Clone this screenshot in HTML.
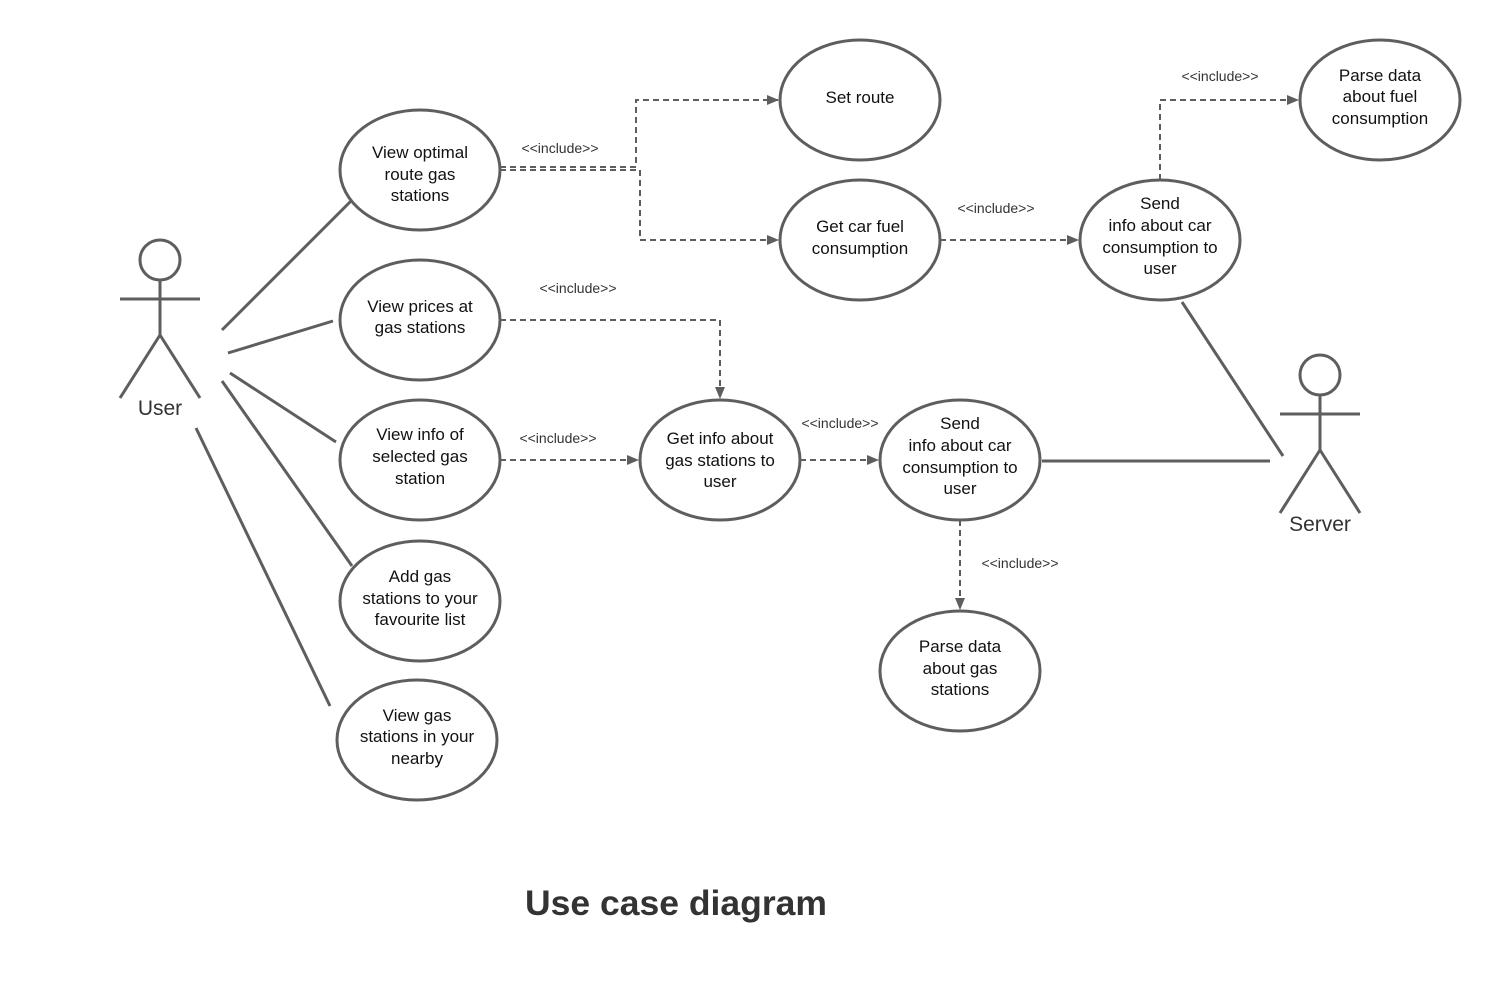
<!DOCTYPE html>
<html><head><meta charset="utf-8"><style>body{margin:0;background:#fff}svg{display:block}</style></head><body>
<svg width="1500" height="995" xmlns="http://www.w3.org/2000/svg" font-family="Liberation Sans, Arial, sans-serif">
<defs><marker id="a" markerWidth="12" markerHeight="12" refX="11" refY="6" orient="auto" markerUnits="userSpaceOnUse"><path d="M0,1 L12,6 L0,11 z" fill="#5e5e5e"/></marker></defs>
<g stroke="#5e5e5e" stroke-width="3" fill="none">
<ellipse cx="420" cy="170" rx="80" ry="60"/>
<ellipse cx="420" cy="320" rx="80" ry="60"/>
<ellipse cx="420" cy="460" rx="80" ry="60"/>
<ellipse cx="420" cy="601" rx="80" ry="60"/>
<ellipse cx="417" cy="740" rx="80" ry="60"/>
<ellipse cx="860" cy="100" rx="80" ry="60"/>
<ellipse cx="860" cy="240" rx="80" ry="60"/>
<ellipse cx="1160" cy="240" rx="80" ry="60"/>
<ellipse cx="1380" cy="100" rx="80" ry="60"/>
<ellipse cx="720" cy="460" rx="80" ry="60"/>
<ellipse cx="960" cy="460" rx="80" ry="60"/>
<ellipse cx="960" cy="671" rx="80" ry="60"/>
<circle cx="160" cy="260" r="20"/>
<path d="M160,280 V335 M120,299 H200 M160,335 L120,398 M160,335 L200,398"/>
<circle cx="1320" cy="375" r="20"/>
<path d="M1320,395 V450 M1280,414 H1360 M1320,450 L1280,513 M1320,450 L1360,513"/>
<path d="M222,330 L352,200 M228,353 L333,321 M230,373 L336,442 M222,381 L352,566 M196,428 L330,706 M1182,302 L1283,456 M1042,461 H1270"/>
</g>
<g stroke="#5e5e5e" stroke-width="2" fill="none" stroke-dasharray="6,4">
<path d="M500,167 H636 V100 H778" marker-end="url(#a)"/>
<path d="M500,170 H640 V240 H778" marker-end="url(#a)"/>
<path d="M940,240 H1078" marker-end="url(#a)"/>
<path d="M1160,180 V100 H1298" marker-end="url(#a)"/>
<path d="M500,320 H720 V398" marker-end="url(#a)"/>
<path d="M500,460 H638" marker-end="url(#a)"/>
<path d="M800,460 H878" marker-end="url(#a)"/>
<path d="M960,520 V609" marker-end="url(#a)"/>
</g>
<g font-size="14" fill="#333" text-anchor="middle">
<text x="560" y="153">&lt;&lt;include&gt;&gt;</text>
<text x="996" y="213">&lt;&lt;include&gt;&gt;</text>
<text x="1220" y="81">&lt;&lt;include&gt;&gt;</text>
<text x="578" y="293">&lt;&lt;include&gt;&gt;</text>
<text x="558" y="443">&lt;&lt;include&gt;&gt;</text>
<text x="840" y="428">&lt;&lt;include&gt;&gt;</text>
<text x="1020" y="568">&lt;&lt;include&gt;&gt;</text>
</g>
<g font-size="17" fill="#111" text-anchor="middle">
<text x="420" y="158">View optimal</text><text x="420" y="180">route gas</text><text x="420" y="201">stations</text>
<text x="420" y="312">View prices at</text><text x="420" y="333">gas stations</text>
<text x="420" y="440">View info of</text><text x="420" y="462">selected gas</text><text x="420" y="484">station</text>
<text x="420" y="582">Add gas</text><text x="420" y="604">stations to your</text><text x="420" y="625">favourite list</text>
<text x="417" y="721">View gas</text><text x="417" y="742">stations in your</text><text x="417" y="764">nearby</text>
<text x="860" y="103">Set route</text>
<text x="860" y="232">Get car fuel</text><text x="860" y="254">consumption</text>
<text x="1160" y="209">Send</text><text x="1160" y="231">info about car</text><text x="1160" y="253">consumption to</text><text x="1160" y="274">user</text>
<text x="1380" y="81">Parse data</text><text x="1380" y="102">about fuel</text><text x="1380" y="124">consumption</text>
<text x="720" y="444">Get info about</text><text x="720" y="466">gas stations to</text><text x="720" y="487">user</text>
<text x="960" y="429">Send</text><text x="960" y="451">info about car</text><text x="960" y="473">consumption to</text><text x="960" y="494">user</text>
<text x="960" y="652">Parse data</text><text x="960" y="674">about gas</text><text x="960" y="695">stations</text>
</g>
<g font-size="21" fill="#333" text-anchor="middle">
<text x="160" y="415">User</text>
<text x="1320" y="531">Server</text>
</g>
<text x="676" y="915" font-size="35.5" font-weight="bold" fill="#333" text-anchor="middle">Use case diagram</text>
</svg>
</body></html>
